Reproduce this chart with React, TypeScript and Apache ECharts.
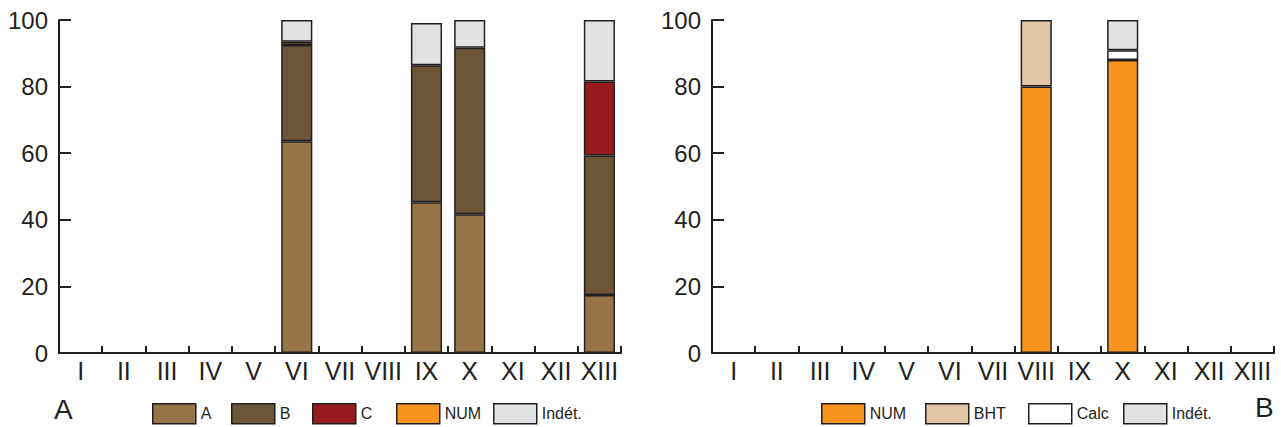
import React, { useEffect, useRef } from "react";
import * as echarts from "echarts";

const categories = ["I", "II", "III", "IV", "V", "VI", "VII", "VIII", "IX", "X", "XI", "XII", "XIII"];
const yTicks = [0, 20, 40, 60, 80, 100];

// Chart A (left)
const leftA = [null, null, null, null, null, 63.6, null, null, 45.3, 41.7, null, null, 17.4];
const leftB = [null, null, null, null, null, 28.9, null, null, 41.1, 50.0, null, null, 41.9];
const leftC = [null, null, null, null, null, null, null, null, null, null, null, null, 22.2];
const leftNUM = [null, null, null, null, null, 1.0, null, null, null, null, null, null, null];
const leftIndet = [null, null, null, null, null, 6.5, null, null, 12.7, 8.3, null, null, 18.5];

// Chart B (right)
const rightNUM = [null, null, null, null, null, null, null, 80.0, null, 88.0, null, null, null];
const rightBHT = [null, null, null, null, null, null, null, 20.0, null, null, null, null, null];
const rightCalc = [null, null, null, null, null, null, null, null, null, 2.9, null, null, null];
const rightIndet = [null, null, null, null, null, null, null, null, null, 9.1, null, null, null];

const leftLegendNames = ["A", "B", "C", "NUM", "Indét."];
const rightLegendNames = ["NUM", "BHT", "Calc", "Indét."];

const INK = "#231f20";
const FONT = "'Liberation Sans', Arial, sans-serif";

export default function App() {
  const ref = useRef<HTMLDivElement>(null);

  useEffect(() => {
    if (!ref.current) return;
    const chart = echarts.init(ref.current, undefined, { renderer: "svg" });

    const colors: Record<string, string> = {
      A: "#977548",
      B: "#6c5637",
      C: "#981b20",
      NUM: "#f7941d",
      "Indét.": "#e1e2e4",
      BHT: "#e2c4a7",
      Calc: "#ffffff",
    };

    const mkSeries = (name: string, data: (number | null)[], idx: number, stack: string) => ({
      name,
      type: "bar",
      stack,
      xAxisIndex: idx,
      yAxisIndex: idx,
      data,
      barCategoryGap: "28%",
      itemStyle: { color: colors[name], borderColor: INK, borderWidth: 1.5 },
      emphasis: { disabled: true },
    });

    const xAxis = (idx: number) => ({
      type: "category",
      gridIndex: idx,
      data: categories,
      boundaryGap: true,
      axisLine: { show: true, lineStyle: { color: INK, width: 2 } },
      axisTick: { show: true, inside: true, length: 7, interval: 0, lineStyle: { color: INK, width: 2 } },
      axisLabel: { interval: 0, fontSize: 25, color: INK, fontFamily: FONT, margin: 5 },
      splitLine: { show: false },
    });

    const yAxis = (idx: number) => ({
      type: "value",
      gridIndex: idx,
      min: 0,
      max: 100,
      interval: 20,
      axisLine: { show: true, lineStyle: { color: INK, width: 2 } },
      axisTick: { show: true, inside: true, length: 12, lineStyle: { color: INK, width: 2 } },
      axisLabel: {
        fontSize: 24,
        color: INK,
        fontFamily: FONT,
        margin: 11,
        customValues: yTicks,
      },
      splitLine: { show: false },
    });

    const leftPos = [152, 231, 312, 396, 493];
    const rightPos = [821, 925, 1028, 1123];

    const legends = [
      ...leftLegendNames.map((n, i) => ({ n, x: leftPos[i] })),
      ...rightLegendNames.map((n, i) => ({ n, x: rightPos[i] })),
    ].map(({ n, x }) => ({
      data: [n],
      left: x,
      top: 403,
      padding: 0,
      itemWidth: 43,
      itemHeight: 20,
      itemGap: 5,
      selectedMode: false,
      icon: "rect",
      itemStyle: { borderColor: INK, borderWidth: 1.5 },
      textStyle: { fontSize: 16, color: INK, fontFamily: FONT, padding: [0, 0, 0, 0] },
    }));

    chart.setOption({
      animation: false,
      backgroundColor: "#ffffff",
      grid: [
        { left: 59, right: 660, top: 20, bottom: 74, containLabel: false },
        { left: 712, right: 7, top: 20, bottom: 74, containLabel: false },
      ],
      xAxis: [xAxis(0), xAxis(1)],
      yAxis: [yAxis(0), yAxis(1)],
      legend: legends,
      series: [
        mkSeries("A", leftA, 0, "left"),
        mkSeries("B", leftB, 0, "left"),
        mkSeries("C", leftC, 0, "left"),
        mkSeries("NUM", leftNUM, 0, "left"),
        mkSeries("Indét.", leftIndet, 0, "left"),
        mkSeries("NUM", rightNUM, 1, "right"),
        mkSeries("BHT", rightBHT, 1, "right"),
        mkSeries("Calc", rightCalc, 1, "right"),
        mkSeries("Indét.", rightIndet, 1, "right"),
      ],
      graphic: [
        {
          type: "text",
          left: 54,
          top: 395,
          style: { text: "A", fontSize: 28, fill: INK, fontFamily: FONT },
        },
        {
          type: "text",
          left: 1255,
          top: 393,
          style: { text: "B", fontSize: 28, fill: INK, fontFamily: FONT },
        },
      ],
    });

    return () => chart.dispose();
  }, []);

  return (
    <div
      ref={ref}
      style={{ position: "absolute", left: 0, top: 0, width: 1281, height: 427, background: "#fff" }}
    />
  );
}
